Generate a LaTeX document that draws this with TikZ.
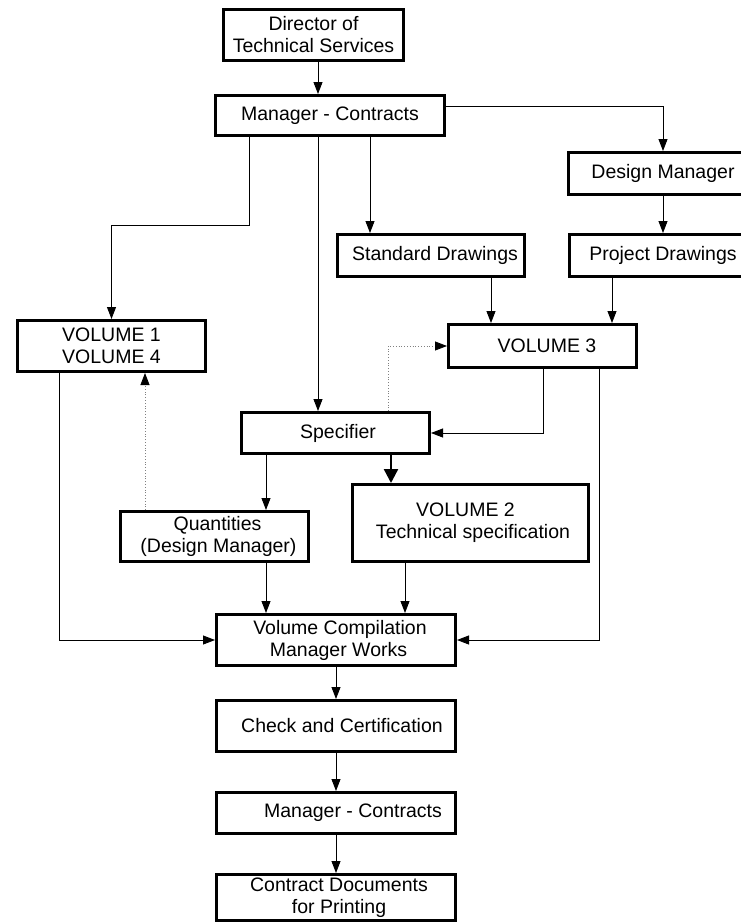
\documentclass[tikz,border=0pt]{standalone}
\usepackage{fontspec}
\setmainfont{Liberation Sans}
\usetikzlibrary{arrows.meta}
\begin{document}
\begin{tikzpicture}[x=1pt,y=-1pt,
  box/.style={draw,line width=3pt,rectangle,inner sep=0pt,align=center,
    font=\fontsize{19.5}{22}\selectfont},
  conn/.style={line width=0.9pt,-{Triangle[length=12pt,width=9pt]}},
  heavy/.style={line width=2.4pt,-{Triangle[length=14pt,width=14pt]}},
  dotconn/.style={line width=0.8pt,draw=gray,dotted,-{Triangle[length=12pt,width=9pt,color=black,fill=black]}}]
\clip (0,0) rectangle (741,924);
\fill[white] (0,0) rectangle (741,924);
% boxes
\node[box,minimum width=180pt,minimum height=51pt] (dir) at (313.5,35) {Director of\\Technical Services};
\node[box,minimum width=229pt,minimum height=40pt] (mc1) at (330,115.5) {Manager - Contracts};
\node[box,minimum width=189pt,minimum height=42pt] (dm) at (663,173.5) {Design Manager};
\node[box,minimum width=187pt,minimum height=42pt] (sd) at (431,255.5) {\hspace*{8pt}Standard Drawings};
\node[box,minimum width=187pt,minimum height=42pt] (pd) at (663,255.5) {Project Drawings};
\node[box,minimum width=188pt,minimum height=51pt] (v14) at (111.5,346) {VOLUME 1\\VOLUME 4};
\node[box,minimum width=188pt,minimum height=43pt] (v3) at (542.5,346) {\hspace*{9pt}VOLUME 3};
\node[box,minimum width=188pt,minimum height=41pt] (spec) at (335.5,433) {\hspace*{5pt}Specifier};
\node[box,minimum width=188pt,minimum height=50pt] (qty) at (214.5,536.5) {\hspace*{6pt}Quantities\\\hspace*{8pt}(Design Manager)};
\node[box,minimum width=236pt,minimum height=77pt] (v2) at (470.5,523) {VOLUME 2\hspace*{10pt}\\\hspace*{5pt}Technical specification};
\node[box,minimum width=239pt,minimum height=51pt] (vc) at (336,640) {\hspace*{8pt}Volume Compilation\\\hspace*{5pt}Manager Works};
\node[box,minimum width=239pt,minimum height=51pt] (cc) at (336,726) {\hspace*{12pt}Check and Certification};
\node[box,minimum width=239pt,minimum height=41pt] (mc2) at (336,813) {\hspace*{34pt}Manager - Contracts};
\node[box,minimum width=239pt,minimum height=46pt] (cd) at (336,897.5) {\hspace*{6pt}Contract Documents\\\hspace*{6pt}for Printing};
% column / row helper coordinates
\coordinate (c59) at (59,0);
\coordinate (c145) at (145,0);
\coordinate (c266) at (266,0);
\coordinate (c318) at (318,0);
\coordinate (c370) at (370,0);
\coordinate (c388) at (388,0);
\coordinate (c391) at (391,0);
\coordinate (c405) at (405,0);
\coordinate (c491) at (491,0);
\coordinate (c543) at (543,0);
\coordinate (c599) at (599,0);
\coordinate (c612) at (612,0);
\coordinate (r106) at (0,106);
\coordinate (k1) at (249,225);
% connectors
\draw[conn] (dir.south -| c318) -- (mc1.north -| c318);
\draw[conn] (mc1.south -| k1) -- (k1) -| (v14.north);
\draw[conn] (mc1.south -| c318) -- (spec.north -| c318);
\draw[conn] (mc1.south -| c370) -- (sd.north -| c370);
\draw[conn] (mc1.east |- r106) -| (dm.north);
\draw[conn] (dm.south) -- (pd.north);
\draw[conn] (sd.south -| c491) -- (v3.north -| c491);
\draw[conn] (pd.south -| c612) -- (v3.north -| c612);
\draw[conn] (v3.south -| c543) |- (spec.east);
\draw[dotconn] (spec.north -| c388) |- (v3.west);
\draw[conn] (spec.south -| c266) -- (qty.north -| c266);
\draw[heavy] (spec.south -| c391) -- (v2.north -| c391);
\draw[dotconn] (qty.north -| c145) -- (v14.south -| c145);
\draw[conn] (qty.south -| c266) -- (vc.north -| c266);
\draw[conn] (v2.south -| c405) -- (vc.north -| c405);
\draw[conn] (v14.south -| c59) |- (vc.west);
\draw[conn] (v3.south -| c599) |- (vc.east);
\draw[conn] (vc.south) -- (cc.north);
\draw[conn] (cc.south) -- (mc2.north);
\draw[conn] (mc2.south) -- (cd.north);
\end{tikzpicture}
\end{document}
